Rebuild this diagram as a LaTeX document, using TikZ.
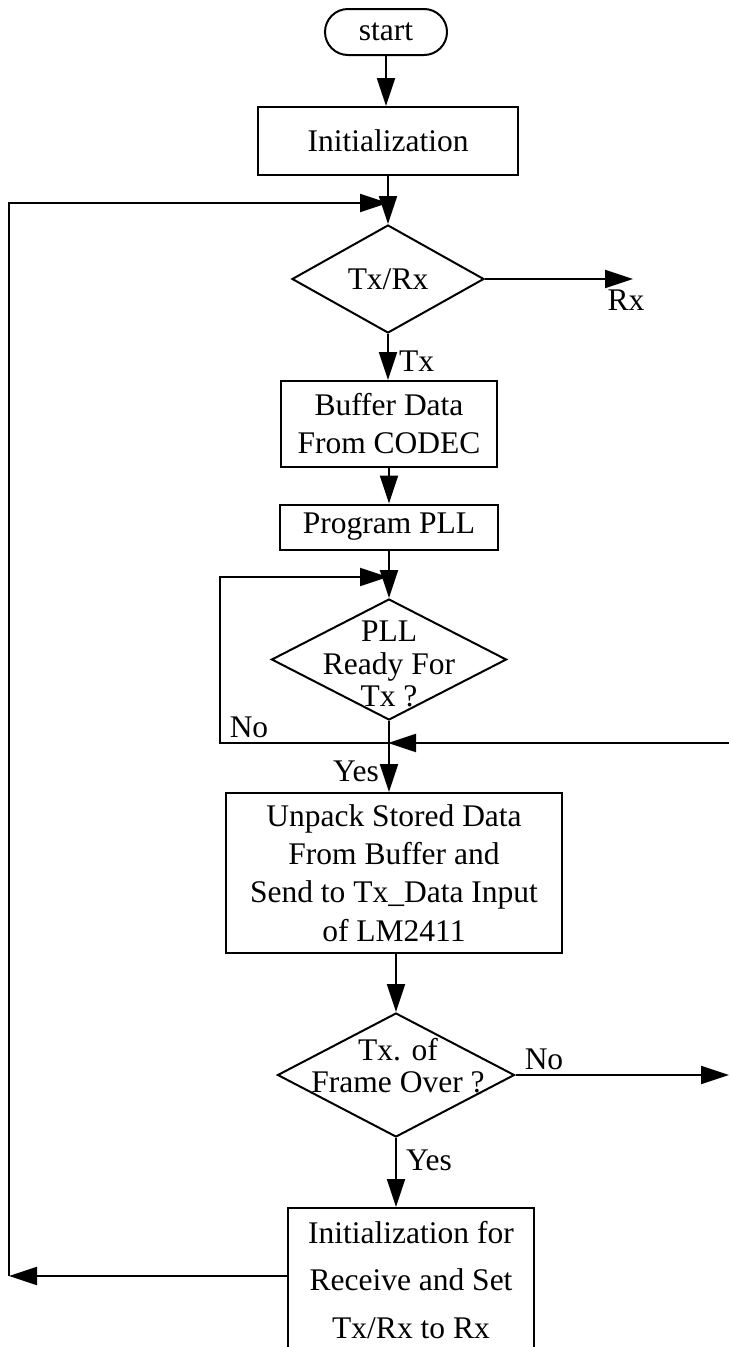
\documentclass[tikz,border=0pt]{standalone}
\usepackage{fontspec}
\setmainfont{Liberation Serif}
\usetikzlibrary{arrows.meta,shapes.geometric,calc}
\begin{document}
\begin{tikzpicture}[x=1pt,y=1pt,
  line width=2pt,
  >={Triangle[length=28pt,width=18pt]},
  every node/.style={font=\fontsize{31.5}{38}\selectfont, inner sep=0pt},
  boxnode/.style={draw, rectangle, align=center},
  termnode/.style={draw, rectangle, rounded corners=23pt, minimum width=122pt, minimum height=46pt},
  dianode/.style={draw, diamond},
  txt/.style={align=center},
  lbl/.style={}
]
\clip (0,0) rectangle (729,-1347);

% nodes
\node[termnode] (start) at (386,-32) {start};
\node[boxnode, minimum width=260pt, minimum height=68pt] (init) at (388,-141) {Initialization};
\node[dianode, minimum width=192pt, minimum height=108pt] (txrx) at (388,-279) {};
\node[txt] (txrxt) at (txrx.center) {Tx/Rx};
\coordinate (rxend) at (633,-279);
\node[lbl] (rxl) at (626,-300) {Rx};
\node[lbl, anchor=west] (txl) at (398,-361) {Tx};

\node[boxnode, minimum width=216pt, minimum height=86pt] (buf) at (389,-424) {Buffer Data\\From CODEC};
\node[boxnode, minimum width=218pt, minimum height=45pt] (prog) at (389,-527) {Program PLL};

\node[dianode, minimum width=235pt, minimum height=121pt] (pll) at (389,-659.5) {};
\node[txt, font=\fontsize{31.5}{32.5}\selectfont] (pllt) at (389,-664) {PLL\\Ready For\\Tx ?};

\coordinate (fbA) at (388,-577);
\coordinate (fbL1) at (220,-577);
\coordinate (fbL2) at (220,-743);
\coordinate (jB) at (388,-743);
\coordinate (rin) at (729,-743);
\node[lbl] (nol) at (249,-727) {No};
\node[lbl] (yesl1) at (356,-771) {Yes};

\node[boxnode, minimum width=336pt, minimum height=160pt, font=\fontsize{31.5}{38.3}\selectfont] (unp) at (394,-873) {Unpack Stored Data\\From Buffer and\\Send to Tx\_Data Input\\of LM2411};

\node[dianode, minimum width=237pt, minimum height=124pt] (fr) at (396,-1075) {};
\node[txt, font=\fontsize{31.5}{32}\selectfont] (frt) at (398,-1066) {Tx. of\\Frame Over ?};
\coordinate (rout) at (729,-1075);
\node[lbl] (nol2) at (544,-1059) {No};
\node[lbl] (yesl2) at (429,-1160) {Yes};

\node[draw, rectangle, minimum width=246pt, minimum height=170pt] (fin) at (411,-1293) {};
\node[txt, font=\fontsize{31.5}{47.5}\selectfont] (fint) at (411,-1280) {Initialization for\\Receive and Set\\Tx/Rx to Rx};

\coordinate (bl) at (9,-1276);
\coordinate (tl) at (9,-203);
\coordinate (fbT) at (388,-203);

% connectors
\draw[->] (start.south) -- (start.south |- init.north);
\draw[->] (init.south -| txrx.north) -- (txrx.north);
\draw[->] (txrx.east) -- (rxend);
\draw[->] (txrx.south) -- (txrx.south |- buf.north);
\draw[->] (buf.south) -- (buf.south |- prog.north);
\draw[->] (prog.south -| pll.north) -- (pll.north);
\draw[->] (pll.south) -- (pll.south |- unp.north);
\draw[->] (jB) -- (fbL2) -- (fbL1) -- (fbA);
\draw[->] (rin) -- (jB);
\draw[->] (unp.south -| fr.north) -- (fr.north);
\draw[->] (fr.east) -- (rout);
\draw[->] (fr.south) -- (fr.south |- fin.north);
\draw[->] (fin.west |- bl) -- (bl);
\draw[->] (bl) -- (tl) -- (fbT);
\end{tikzpicture}
\end{document}
